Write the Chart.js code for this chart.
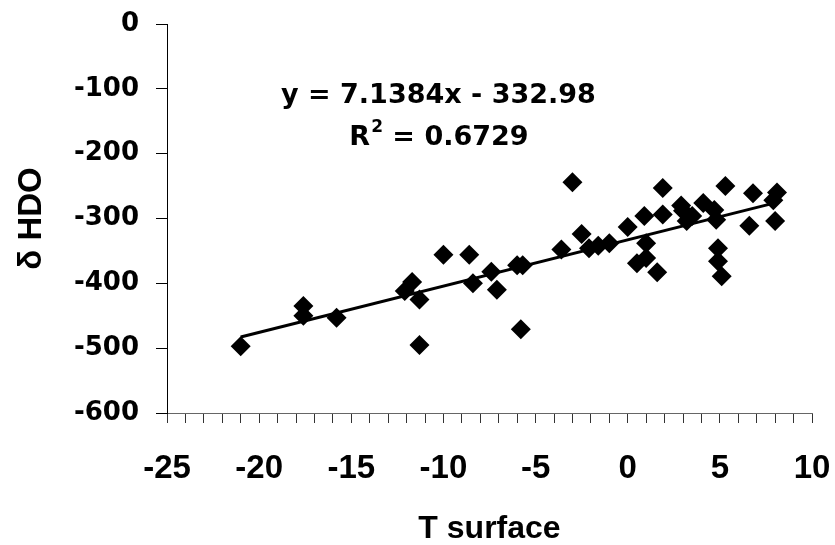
<!DOCTYPE html>
<html>
<head>
<meta charset="utf-8">
<script src="https://cdn.jsdelivr.net/npm/chart.js@4.4.1/dist/chart.umd.min.js"></script>
<style>
  html, body { margin: 0; padding: 0; background: #fff; }
  #wrap { width: 835px; height: 545px; }
</style>
</head>
<body>
<div id="wrap"><canvas id="hdoChart"></canvas></div>
<script>
// data points
const tSurface = [-21.0, -17.6, -17.6, -15.8, -12.1, -11.7, -11.3, -11.3, -10.0, -8.6,
                  -8.4, -7.4, -7.1, -6.0, -5.7, -5.8, -3.6, -3.0, -2.5, -2.1,
                  -1.6, -1.0, 0.0, 0.5, 0.9, 1.0, 1.0, 1.6, 1.9, 1.9,
                  2.9, 3.0, 3.2, 3.5, 4.1, 4.7, 4.8, 4.9, 4.9, 5.1,
                  5.3, 6.6, 6.8, 7.9, 8.0, 8.1];
const deltaHDO = [-497, -435, -450, -453, -412, -398, -425, -495, -356, -356,
                  -400, -382, -410, -372, -372, -471, -348, -244, -324, -346,
                  -342, -338, -313, -369, -296, -338, -361, -383, -253, -294,
                  -280, -288, -304, -296, -276, -287, -302, -346, -366, -389,
                  -250, -311, -261, -272, -304, -260];

// linear fit as printed on the chart
const slope = 7.1384;
const intercept = -332.98;
const rSquared = '0.6729';

const xTickLabels = [-25, -20, -15, -10, -5, 0, 5, 10];
const yTickLabels = [-600, -500, -400, -300, -200, -100, 0];

const WIDE = '"DejaVu Sans", "Liberation Sans", Arial, sans-serif';
const ARIAL = '"Liberation Sans", Arial, sans-serif';

const points = tSurface.map((t, i) => ({ x: t, y: deltaHDO[i] }));
const minT = Math.min(...tSurface);
const maxT = Math.max(...tSurface);
const trend = [
    { x: minT, y: slope * minT + intercept },
    { x: maxT, y: slope * maxT + intercept }
];

// equation + R² text
const equationLabel = {
    id: 'equationLabel',
    afterDatasetsDraw(chart) {
        const { ctx, scales: { x, y } } = chart;
        ctx.save();
        ctx.fillStyle = '#000';
        ctx.textBaseline = 'middle';
        ctx.font = 'bold 27px ' + WIDE;
        ctx.textAlign = 'center';
        ctx.fillText('y = ' + slope + 'x - ' + Math.abs(intercept), x.getPixelForValue(-10.27), y.getPixelForValue(-111));

        const cx = x.getPixelForValue(-10.27);
        const cy = y.getPixelForValue(-176);
        const rest = ' = ' + rSquared;
        const wR = ctx.measureText('R').width;
        const wRest = ctx.measureText(rest).width;
        ctx.font = 'bold 17px ' + WIDE;
        const wSup = ctx.measureText('2').width;
        let left = cx - (wR + wSup + wRest) / 2;
        ctx.textAlign = 'left';
        ctx.font = 'bold 27px ' + WIDE;
        ctx.fillText('R', left, cy);
        left += wR + 1;
        ctx.font = 'bold 17px ' + WIDE;
        ctx.fillText('2', left, cy - 11);
        left += wSup;
        ctx.font = 'bold 27px ' + WIDE;
        ctx.fillText(rest, left, cy);
        ctx.restore();
    }
};

const ctx = document.getElementById('hdoChart').getContext('2d');
new Chart(ctx, {
    type: 'scatter',
    data: {
        datasets: [{
            label: 'δ HDO',
            data: points,
            pointStyle: 'rectRot',
            pointRadius: 10,
            pointBackgroundColor: '#000',
            pointBorderColor: '#000',
            pointBorderWidth: 0,
            order: 1
        }, {
            type: 'line',
            label: 'trend',
            data: trend,
            borderColor: '#000',
            borderWidth: 3,
            pointRadius: 0,
            fill: false,
            order: 2
        }]
    },
    options: {
        responsive: true,
        maintainAspectRatio: false,
        animation: false,
        layout: { padding: { left: 0, right: 23, top: 24, bottom: 0 } },
        plugins: {
            legend: { display: false },
            tooltip: { enabled: false }
        },
        scales: {
            x: {
                type: 'linear',
                min: -25,
                max: 10,
                afterFit: (scale) => {
                    scale.height = 132;
                    scale.paddingLeft = 0;
                    scale.paddingRight = 0;
                },
                border: { display: true, color: '#666', width: 1 },
                grid: { drawOnChartArea: false, drawTicks: true, tickLength: 10, color: '#333' },
                ticks: {
                    stepSize: 1,
                    autoSkip: false,
                    maxRotation: 0,
                    minRotation: 0,
                    padding: 26,
                    color: '#000',
                    font: { family: ARIAL, size: 33, weight: 'bold' },
                    callback: (v) => xTickLabels.includes(v) ? String(v) : ''
                },
                title: {
                    display: true,
                    text: 'T surface',
                    color: '#000',
                    font: { family: ARIAL, size: 32, weight: 'bold', lineHeight: 1 },
                    padding: { top: 0, bottom: 0 }
                }
            },
            y: {
                type: 'linear',
                min: -600,
                max: 0,
                afterFit: (scale) => {
                    scale.width = 167;
                    scale.paddingTop = 0;
                    scale.paddingBottom = 0;
                },
                border: { display: true, color: '#000', width: 1 },
                grid: { drawOnChartArea: false, drawTicks: true, tickLength: 11, color: '#000' },
                ticks: {
                    stepSize: 100,
                    padding: 17,
                    color: '#000',
                    font: { family: WIDE, size: 26, weight: 'bold' },
                    callback: (v) => yTickLabels.includes(v) ? String(v) : ''
                },
                title: {
                    display: true,
                    text: 'δ HDO',
                    color: '#000',
                    font: { family: ARIAL, size: 33, weight: 'bold' },
                    padding: { top: 12, bottom: 0 }
                }
            }
        }
    },
    plugins: [equationLabel]
});
</script>
</body>
</html>
